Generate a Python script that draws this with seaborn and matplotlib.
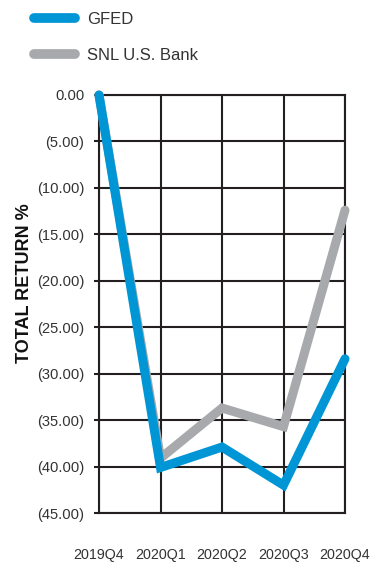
import matplotlib
matplotlib.use("Agg")
import matplotlib.pyplot as plt
import seaborn as sns
import pandas as pd
from matplotlib.lines import Line2D

quarters = ["2019Q4", "2020Q1", "2020Q2", "2020Q3", "2020Q4"]
gfed = [0.0, -40.1, -37.9, -42.0, -28.4]
snl = [0.0, -39.1, -33.7, -35.7, -12.4]
series_names = ["SNL U.S. Bank", "GFED"]
y_ticks = [0, -5, -10, -15, -20, -25, -30, -35, -40, -45]
y_tick_labels = ["0.00", "(5.00)", "(10.00)", "(15.00)", "(20.00)", "(25.00)",
                 "(30.00)", "(35.00)", "(40.00)", "(45.00)"]

BLUE = "#0096D6"
GRAY = "#A7A9AC"
DARK = "#231F20"
TXT = "#333333"

sns.set_theme(style="white")
plt.rcParams['font.family'] = ['Liberation Sans', 'DejaVu Sans']

df = pd.DataFrame({
    "x": list(range(len(quarters))) * 2,
    "value": snl + gfed,
    "series": [series_names[0]] * len(quarters) + [series_names[1]] * len(quarters),
})

fig = plt.figure(figsize=(3.82, 5.67), dpi=100)
ax = fig.add_axes([99/382, 1-513/567, (345-99)/382, (513-95)/567])

sns.lineplot(data=df, x="x", y="value", hue="series",
             palette={series_names[0]: GRAY, series_names[1]: BLUE},
             linewidth=6.5, ax=ax, legend=False, zorder=5)
for ln in ax.lines:
    ln.set_solid_capstyle("round")
    ln.set_solid_joinstyle("miter")
    ln.set_clip_on(False)

ax.set_xlim(0, len(quarters) - 1)
ax.set_ylim(-45, 0)
ax.set_xticks(range(len(quarters)))
ax.set_xticklabels(quarters, fontsize=10.3, color=TXT)
ax.set_yticks(y_ticks)
ax.set_yticklabels(y_tick_labels, fontsize=10.6, color=TXT)
ax.tick_params(axis="y", length=3.6, width=1.5, color=DARK, pad=7, left=True)
ax.tick_params(axis="x", length=0, pad=25)
ax.grid(True, color=DARK, linewidth=1.5)
ax.set_axisbelow(True)
for s in ax.spines.values():
    s.set_visible(True)
    s.set_color(DARK)
    s.set_linewidth(1.5)
ax.set_xlabel("")
ax.set_ylabel("TOTAL RETURN %", fontsize=13, fontweight="bold", color="#111111")
ax.yaxis.set_label_coords((33 - 99) / 246, (513 - 283) / 418)

handles = [Line2D([0], [0], color=BLUE, linewidth=7, solid_capstyle="round"),
           Line2D([0], [0], color=GRAY, linewidth=7, solid_capstyle="round")]
leg = fig.legend(handles, ["GFED", "SNL U.S. Bank"], loc="upper left",
                 bbox_to_anchor=(19/382, 1+3/567), frameon=False,
                 fontsize=12, handlelength=2.45, handletextpad=0.75,
                 labelspacing=1.25)
for t in leg.get_texts():
    t.set_color(TXT)

fig.savefig("out.png", dpi=100)
